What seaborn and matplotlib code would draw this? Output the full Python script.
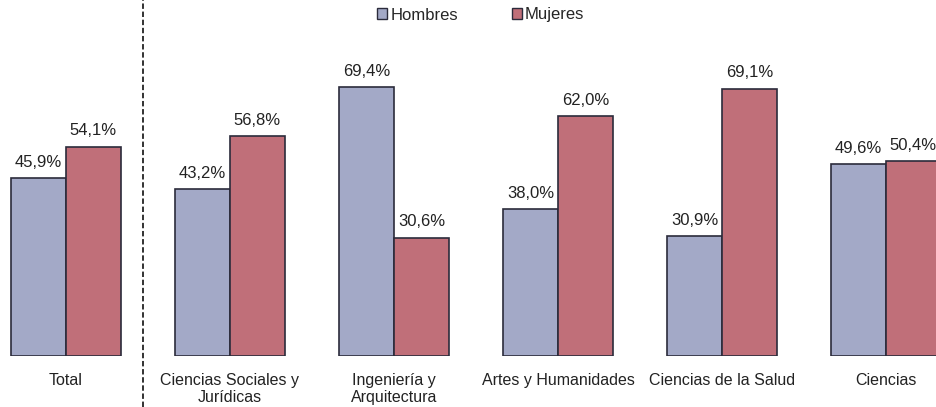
import pandas as pd
import matplotlib.pyplot as plt
import seaborn as sns
from matplotlib.lines import Line2D
from matplotlib.patches import Patch

# Data
categorias = ['Total', 'Ciencias Sociales y\nJurídicas', 'Ingeniería y\nArquitectura',
              'Artes y Humanidades', 'Ciencias de la Salud', 'Ciencias']
hombres = [45.9, 43.2, 69.4, 38.0, 30.9, 49.6]
mujeres = [54.1, 56.8, 30.6, 62.0, 69.1, 50.4]

df = pd.DataFrame({
    'categoria': categorias * 2,
    'sexo': ['Hombres'] * len(categorias) + ['Mujeres'] * len(categorias),
    'valor': hombres + mujeres,
})

colores = {'Hombres': '#A3A9C7', 'Mujeres': '#C06F79'}

sns.set_style('white')
plt.rcParams['font.family'] = ['Liberation Sans', 'DejaVu Sans']

fig = plt.figure(figsize=(9.36, 4.07), dpi=100)
ax = fig.add_axes([0, 51 / 407, 1, 356 / 407])

sns.barplot(data=df, x='categoria', y='valor', hue='sexo', palette=colores,
            saturation=1, width=0.67, edgecolor='#2b2b3b', linewidth=1.2,
            ax=ax, legend=False)

for cont in ax.containers:
    ax.bar_label(cont, labels=[f'{v:.1f}%'.replace('.', ',') for v in cont.datavalues],
                 padding=6, fontsize=12, color='#222222')

ax.set_xlim(-0.402, 5.305)
ax.set_ylim(0, 92)
ax.set_xlabel('')
ax.set_ylabel('')
ax.set_yticks([])
ax.tick_params(axis='x', length=0, pad=12, labelsize=11.5, colors='#222222')
for s in ax.spines.values():
    s.set_visible(False)

# dashed separator after "Total"
fig.add_artist(Line2D([143 / 936, 143 / 936], [0, 1], transform=fig.transFigure,
                      color='#222222', linestyle=(0, (3, 1.5)), linewidth=1.3))

handles = [Patch(facecolor=colores[k], edgecolor='#2b2b3b', label=k) for k in colores]
fig.legend(handles=handles, loc='center', bbox_to_anchor=(481 / 936, 1 - 15 / 407),
           ncol=2, frameon=False, fontsize=12, handlelength=0.6, handleheight=0.6,
           handletextpad=0.2, columnspacing=3.2, borderpad=0)

fig.savefig('out.png', dpi=100)
